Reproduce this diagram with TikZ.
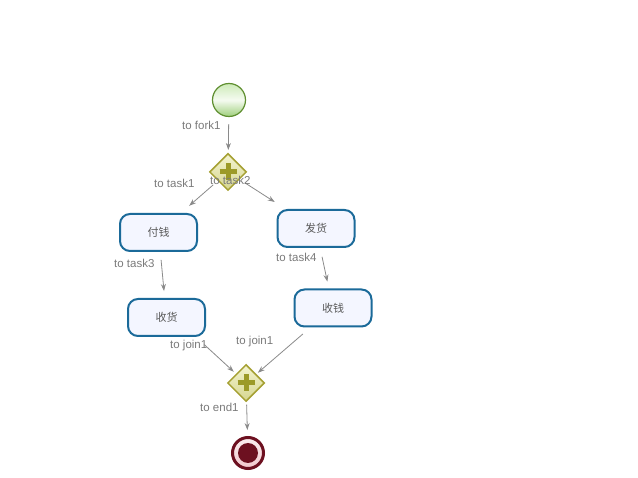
\documentclass[tikz,border=0pt]{standalone}
\usepackage{fontspec}
\setmainfont{Liberation Sans}
\newfontfamily\cjk{Noto Sans CJK SC}
\usetikzlibrary{shapes.geometric,arrows.meta,positioning,calc}

\definecolor{flowgray}{HTML}{8A8A8A}
\definecolor{labelgray}{HTML}{7A7A7A}
\definecolor{taskblue}{HTML}{1B6A99}
\definecolor{taskfill}{HTML}{F4F6FF}
\definecolor{gateline}{HTML}{A5A032}
\definecolor{gatetop}{HTML}{F4F4D0}
\definecolor{gatebottom}{HTML}{D6D690}
\definecolor{gatecross}{HTML}{9C9A28}
\definecolor{startline}{HTML}{5F8F30}
\definecolor{starttop}{HTML}{CDEBB8}
\definecolor{startbottom}{HTML}{9FCF7C}
\definecolor{endline}{HTML}{6D1020}
\definecolor{endfill}{HTML}{F2C6CC}

\begin{document}
\begin{tikzpicture}[x=1pt, y=-1pt, >={Stealth[length=7pt,width=5pt]},
    flow/.style={->, draw=flowgray, line width=0.8pt},
    flowlabel/.style={text=labelgray, inner sep=0pt, anchor=west, font=\fontsize{11.5}{13}\selectfont},
    task/.style={draw=taskblue, line width=2pt, fill=taskfill, rounded corners=10pt, minimum width=77pt, minimum height=37pt, text=black!65, font=\cjk\fontsize{11}{13}\selectfont},
    gateway/.style={diamond, draw=gateline, line width=1.5pt, top color=gatetop, bottom color=gatebottom, minimum width=37pt, minimum height=37pt, inner sep=0pt},
    startevent/.style={circle, draw=startline, line width=1.2pt, top color=starttop, bottom color=startbottom, middle color=white!80!starttop, minimum size=33pt, inner sep=0pt},
    endevent/.style={circle, draw=endline, line width=3pt, top color=white!70!endfill, bottom color=endfill, minimum size=31pt, inner sep=0pt}]
    \useasboundingbox (0,0) rectangle (638,478);

    % events and gateways
    \node [startevent] (start) at (229,100) {};
    \node [gateway] (fork) at (228,172) {};
    \node [gateway] (join) at (246,383) {};
    \node [endevent] (end) at (248,453) {};
    \fill [endline] (end) circle (10pt);
    \foreach \g in {fork, join} {
        \draw [gatecross, line width=5pt] ($(\g)+(-8.5,0)$) -- ($(\g)+(8.5,0)$);
        \draw [gatecross, line width=5pt] ($(\g)+(0,-8.5)$) -- ($(\g)+(0,8.5)$);
    }

    % tasks
    \node [task] (task1) at (158.5,232.5) {付钱};
    \node [task] (task2) at (316,228.5) {发货};
    \node [task] (task3) at (166.5,317.5) {收货};
    \node [task] (task4) at (333,308) {收钱};
    \coordinate (t3out) at ([xshift=-10pt]task3.south east);

    % labels
    \node [flowlabel] (lfork1) at (182,125) {to fork1};
    \node [flowlabel] (ltask1) at (154,183) {to task1};
    \node [flowlabel] (ltask3) at (114,263) {to task3};
    \node [flowlabel] (ltask4) at (276,257) {to task4};
    \node [flowlabel] (ljoinA) at (170,346) {to join1};
    \node [flowlabel] (ljoinB) at (236,342) {to join1};
    \node [flowlabel] (lend1) at (200,407) {to end1};

    % transitions
    \draw [flow, shorten <=7pt, shorten >=3pt] (start) -- (fork);
    \draw [flow, shorten <=6pt, shorten >=11pt] (fork) -- (task1);
    \draw [flow, shorten <=6pt, shorten >=13pt] (fork) -- (task2);
    \draw [flow, shorten <=8pt, shorten >=7pt] (task1) -- (task3);
    \draw [flow, shorten <=9pt, shorten >=7pt] (task2) -- (task4);
    \draw [flow, shorten <=11pt, shorten >=3pt] (t3out) -- (join);
    \draw [flow, shorten <=10pt, shorten >=2pt] (task4) -- (join);
    \draw [flow, shorten <=3pt, shorten >=6pt] (join) -- (end);

    \node [flowlabel] (ltask2) at (210,180) {to task2};
\end{tikzpicture}
\end{document}
